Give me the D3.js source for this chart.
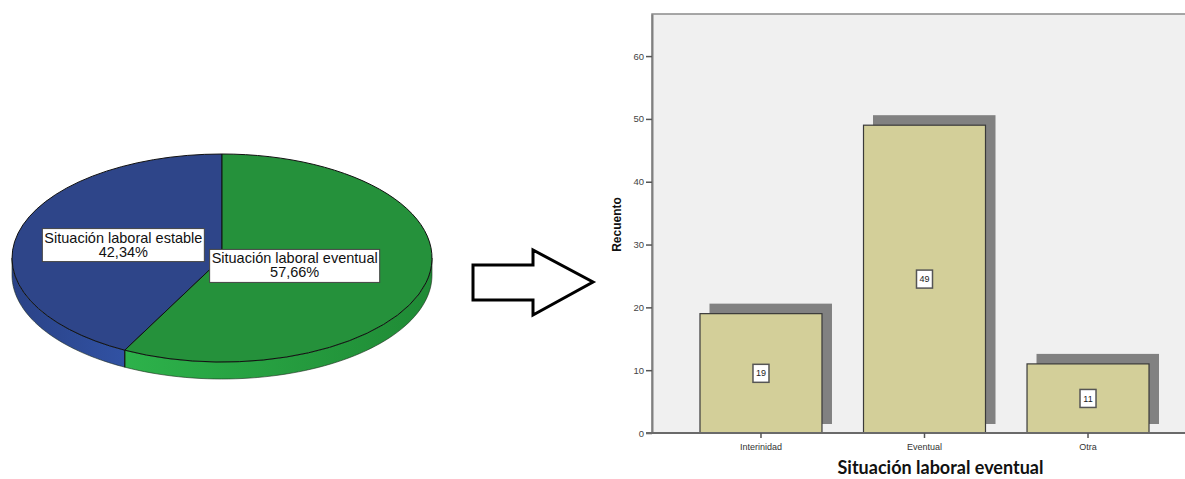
<!DOCTYPE html>
<html>
<head>
<meta charset="utf-8">
<script src="https://cdn.jsdelivr.net/npm/d3@7"></script>
<style>
  body { margin: 0; background: #fff; }
  svg { display: block; }
</style>
</head>
<body>
<div id="chart"></div>
<script>
// Pie data (percentages)
var pieCategories = ["Situación laboral estable", "Situación laboral eventual"];
var pieValues = [42.34, 57.66];
var pieLabels = ["42,34%", "57,66%"];

// Bar data (counts)
var barCategories = ["Interinidad", "Eventual", "Otra"];
var barValues = [19, 49, 11];
var yTicks = [0, 10, 20, 30, 40, 50, 60];

var W = 1185, H = 479;

var svg = d3.select("#chart")
  .append("svg")
  .attr("width", W)
  .attr("height", H);

// ---------- 3D pie ----------
var cx = 222, cy = 258, rx = 210, ry = 104, depth = 17;
var topColors = ["#2e4589", "#25913b"];
var sideColors = [["#2a4286", "#3152a4"], ["#2db34b", "#1f8a35"]];

var defs = svg.append("defs");
sideColors.forEach(function(c, i) {
  var g = defs.append("linearGradient")
    .attr("id", "side" + i)
    .attr("gradientUnits", "userSpaceOnUse")
    .attr("x1", i == 0 ? cx - rx : cx - rx * 0.5).attr("x2", i == 0 ? cx - rx * 0.45 : cx + rx)
    .attr("y1", 0).attr("y2", 0);
  g.append("stop").attr("offset", "0%").attr("stop-color", c[0]);
  g.append("stop").attr("offset", "100%").attr("stop-color", c[1]);
});

// blue slice ends at 12 o'clock, green starts there (clockwise)
var total = d3.sum(pieValues);
var start = -2 * Math.PI * pieValues[0] / total;
var pie = d3.pie().sort(null).startAngle(start).endAngle(start + 2 * Math.PI);
var arcs = pie(pieValues);

function ept(a, dy) {
  return [cx + rx * Math.sin(a), cy - ry * Math.cos(a) + dy];
}

// side walls (only the front half, where cos(a) < 0)
var gSide = svg.append("g");
arcs.forEach(function(d, i) {
  var norm = function(a) { return a < 0 ? a + 2 * Math.PI : a; };
  var a0 = d.startAngle, a1 = d.endAngle;
  // work in [0, 2pi)
  var s = norm(a0), e = s + (a1 - a0);
  var lo = Math.max(s, Math.PI / 2), hi = Math.min(e, 3 * Math.PI / 2);
  if (hi <= lo) return;
  var n = 60, top = [], bot = [];
  for (var k = 0; k <= n; k++) {
    var a = lo + (hi - lo) * k / n;
    top.push(ept(a, 0));
    bot.push(ept(a, depth));
  }
  var pts = top.concat(bot.reverse());
  gSide.append("path")
    .attr("d", d3.line()(pts) + "Z")
    .attr("fill", "url(#side" + i + ")")
    .attr("stroke", "#1d2a1d")
    .attr("stroke-width", 0.6);
});

// vertical edge where slices meet on the side
var split = arcs[1].endAngle;
var p0 = ept(split, 0), p1 = ept(split, depth);
gSide.append("line")
  .attr("x1", p0[0]).attr("y1", p0[1]).attr("x2", p1[0]).attr("y2", p1[1])
  .attr("stroke", "#111").attr("stroke-width", 1);

// top face: circular arcs squashed into an ellipse
var arc = d3.arc().innerRadius(0).outerRadius(rx);
var gTop = svg.append("g")
  .attr("transform", "translate(" + cx + "," + cy + ") scale(1," + (ry / rx) + ")");
gTop.selectAll("path")
  .data(arcs)
  .enter()
  .append("path")
  .attr("d", arc)
  .attr("fill", function(d, i) { return topColors[i]; })
  .attr("stroke", "#111")
  .attr("stroke-width", 1)
  .attr("vector-effect", "non-scaling-stroke");

// pie labels
var labelArc = d3.arc().innerRadius(0).outerRadius(rx * 0.84);
arcs.forEach(function(d, i) {
  var c = labelArc.centroid(d);
  var lx = cx + c[0] - 13, ly = cy + c[1] * ry / rx;
  var g = svg.append("g");
  var t = g.append("text")
    .attr("text-anchor", "middle")
    .style("font-family", "'Liberation Sans', Arial, sans-serif")
    .style("font-size", "14.5px")
    .attr("fill", "#111");
  t.append("tspan").attr("x", lx).attr("y", ly - 5).text(pieCategories[i]);
  t.append("tspan").attr("x", lx).attr("y", ly + 9).text(pieLabels[i]);
  var bb = t.node().getBBox();
  g.insert("rect", "text")
    .attr("x", bb.x - 2).attr("y", bb.y - 1)
    .attr("width", bb.width + 4).attr("height", bb.height + 3)
    .attr("fill", "#fff")
    .attr("stroke", "#444")
    .attr("stroke-width", 1);
});

// ---------- arrow ----------
svg.append("path")
  .attr("d", "M473,265 L533,265 L533,250 L593,282 L533,315 L533,300 L473,300 Z")
  .attr("fill", "#fff")
  .attr("stroke", "#000")
  .attr("stroke-width", 3)
  .attr("stroke-linejoin", "miter");

// ---------- bar chart ----------
var plot = {left: 652, right: 1197, top: 14, bottom: 433};

var y = d3.scaleLinear()
  .domain([0, 66.7])
  .range([plot.bottom, plot.top]);

var x = d3.scaleBand()
  .domain(barCategories)
  .range([plot.left, plot.right])
  .paddingInner(0.254)
  .paddingOuter(0.2935);

// frame background
svg.append("rect")
  .attr("x", plot.left).attr("y", plot.top)
  .attr("width", plot.right - plot.left).attr("height", plot.bottom - plot.top)
  .attr("fill", "#f0f0f0")
  .attr("stroke", "#8a8a8a")
  .attr("stroke-width", 1.5);

// shadows
svg.selectAll("rect.shadow")
  .data(barValues)
  .enter()
  .append("rect")
  .attr("class", "shadow")
  .attr("x", function(d, i) { return x(barCategories[i]) + 9.5; })
  .attr("y", function(d) { return y(d) - 10; })
  .attr("width", x.bandwidth() + 0.5)
  .attr("height", function(d) { return y(0) - 9 - (y(d) - 10); })
  .attr("fill", "#818181");

// bars
svg.selectAll("rect.bar")
  .data(barValues)
  .enter()
  .append("rect")
  .attr("class", "bar")
  .attr("x", function(d, i) { return x(barCategories[i]); })
  .attr("y", function(d) { return y(d); })
  .attr("width", x.bandwidth())
  .attr("height", function(d) { return y(0) - y(d); })
  .attr("fill", "#d3cf99")
  .attr("stroke", "#3a3a3a")
  .attr("stroke-width", 1.2);

// value boxes
var vb = svg.selectAll("g.vbox")
  .data(barValues)
  .enter()
  .append("g")
  .attr("class", "vbox")
  .attr("transform", function(d, i) {
    return "translate(" + (x(barCategories[i]) + x.bandwidth() / 2) + "," + y(d / 2) + ")";
  });
vb.append("rect")
  .attr("x", -8).attr("y", -9)
  .attr("width", 16).attr("height", 18)
  .attr("fill", "#fff")
  .attr("stroke", "#555")
  .attr("stroke-width", 1.5);
vb.append("text")
  .attr("text-anchor", "middle")
  .attr("dy", "0.35em")
  .style("font-family", "'Liberation Sans', Arial, sans-serif")
  .style("font-size", "9px")
  .attr("fill", "#222")
  .text(function(d) { return d; });

// y axis
var yAxis = svg.append("g")
  .attr("transform", "translate(" + plot.left + ",0)")
  .call(d3.axisLeft(y).tickValues(yTicks).tickSize(6).tickPadding(2).tickSizeOuter(0));
yAxis.select(".domain").attr("stroke", "#808080").attr("stroke-width", 2);
yAxis.selectAll(".tick line").attr("stroke", "#555").attr("stroke-width", 1.5);
yAxis.selectAll(".tick text")
  .style("font-family", "'Liberation Sans', Arial, sans-serif")
  .style("font-size", "9.5px")
  .attr("fill", "#444");

// x axis
var xAxis = svg.append("g")
  .attr("transform", "translate(0," + plot.bottom + ")")
  .call(d3.axisBottom(x).tickSize(5).tickPadding(6).tickSizeOuter(0));
xAxis.select(".domain").attr("stroke", "#6a6a6a").attr("stroke-width", 2)
  .attr("d", "M" + (plot.left - 6) + ",0H" + plot.right);
xAxis.selectAll(".tick line").attr("stroke", "#555").attr("stroke-width", 1.5);
xAxis.selectAll(".tick text")
  .style("font-family", "'Liberation Sans', Arial, sans-serif")
  .style("font-size", "9px")
  .attr("fill", "#333");

// axis titles
svg.append("text")
  .attr("transform", "translate(621," + ((plot.top + plot.bottom) / 2 + 1) + ") rotate(-90)")
  .attr("text-anchor", "middle")
  .style("font-family", "'Liberation Sans', Arial, sans-serif")
  .style("font-size", "12px")
  .style("font-weight", "bold")
  .attr("fill", "#111")
  .text("Recuento");

svg.append("text")
  .attr("x", (plot.left + plot.right) / 2 + 16)
  .attr("y", 474)
  .attr("text-anchor", "middle")
  .style("font-family", "Lato, 'Open Sans', sans-serif")
  .style("font-size", "18px")
  .style("font-weight", "bold")
  .attr("fill", "#111")
  .text("Situación laboral eventual");
</script>
</body>
</html>
